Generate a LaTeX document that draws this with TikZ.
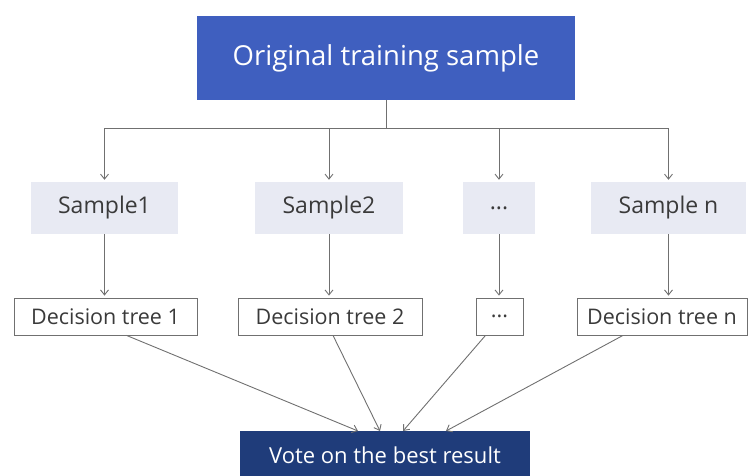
\documentclass[tikz,border=0pt]{standalone}
\usepackage{fontspec}
\setmainfont{Open Sans}
\usetikzlibrary{arrows.meta,calc}
\definecolor{topblue}{HTML}{3F5FBF}
\definecolor{navy}{HTML}{1F3C7A}
\definecolor{samplefill}{HTML}{E8EAF3}
\definecolor{linegray}{HTML}{707070}
\definecolor{txtgray}{HTML}{3A3A3A}
\begin{document}
\begin{tikzpicture}[x=1pt,y=-1pt,
  samplebox/.style={fill=samplefill,draw=none,minimum height=52pt,inner sep=0pt,text=txtgray,font=\fontsize{23}{26}\selectfont},
  treebox/.style={fill=white,draw=linegray,line width=0.8pt,minimum height=37pt,inner sep=0pt,text=txtgray,font=\fontsize{21.5}{24}\selectfont},
  conn/.style={draw=linegray,line width=0.9pt},
  arr/.style={conn,-{Straight Barb[length=5pt,width=8pt]},shorten >=2pt}]
\useasboundingbox (0,0) rectangle (748,475);
\node[fill=topblue,minimum width=378pt,minimum height=84pt,inner sep=0pt,text=white,font=\fontsize{27.5}{30}\selectfont] (top) at (386,58) {Original training sample};
\node[samplebox,minimum width=147pt] (s1) at (104.5,208) {Sample1};
\node[samplebox,minimum width=148pt] (s2) at (329,208) {Sample2};
\node[samplebox,minimum width=72pt] (s3) at (499,208) {...};
\node[samplebox,minimum width=155pt] (s4) at (668.5,208) {Sample n};
\node[treebox,minimum width=183pt] (t1) at (105.5,316.5) {Decision tree 1};
\node[treebox,minimum width=184pt] (t2) at (330,316.5) {Decision tree 2};
\node[treebox,minimum width=47pt] (t3) at (499.5,316.5) {...};
\node[treebox,minimum width=170pt] (t4) at (662,316.5) {Decision tree n};
\node[fill=navy,minimum width=290pt,minimum height=48pt,inner sep=0pt,text=white,font=\fontsize{22}{25}\selectfont] (vote) at (385,455) {Vote on the best result};
\coordinate (hub) at (top.south |- 0,128);
\draw[conn] (top.south) -- (hub);
\foreach \s in {s1,s2,s3,s4} \draw[arr] (hub) -| (\s.north);
\foreach \s/\t in {s1/t1,s2/t2,s3/t3,s4/t4} \draw[arr] (\s.south) -- (\s.south |- \t.north);
\coordinate (v1) at (358,431);
\coordinate (v2) at (380,431);
\coordinate (v3) at (403,431);
\coordinate (v4) at (446,431);
\draw[arr,shorten >=0pt] ($(t1.south)+(21,0)$) -- (v1);
\draw[arr,shorten >=0pt] ($(t2.south)+(3,0)$) -- (v2);
\draw[arr,shorten >=0pt] ($(t3.south)+(-14,0)$) -- (v3);
\draw[arr,shorten >=0pt] ($(t4.south)+(-39,0)$) -- (v4);
\end{tikzpicture}
\end{document}
